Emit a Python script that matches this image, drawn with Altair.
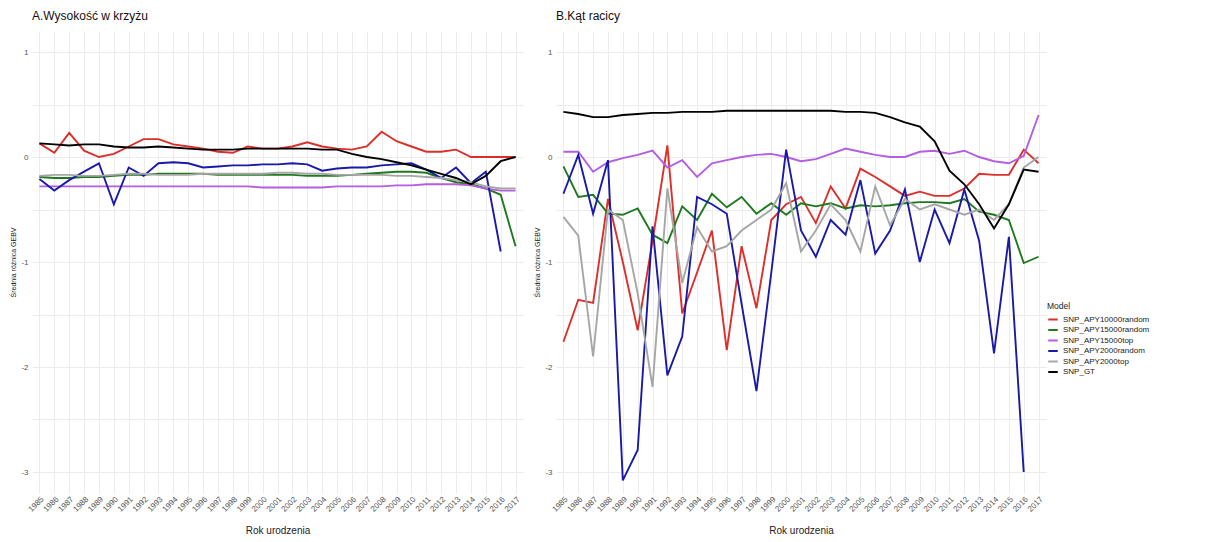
import altair as alt
import pandas as pd

years = [str(y) for y in range(1985, 2018)]  # 33 birth years

series = ["SNP_APY10000random", "SNP_APY15000random", "SNP_APY15000top",
          "SNP_APY2000random", "SNP_APY2000top", "SNP_GT"]
colors = ["#dc2f2a", "#1f7a1f", "#b45ee0", "#1a1aa8", "#a6a6a6", "#000000"]

# Panel A: Wysokość w krzyżu
a_red = [0.13, 0.04, 0.23, 0.06, 0.0, 0.03, 0.1, 0.17, 0.17, 0.12, 0.1, 0.08, 0.05, 0.04, 0.1, 0.08,
         0.08, 0.1, 0.14, 0.1, 0.08, 0.07, 0.1, 0.24, 0.15, 0.1, 0.05, 0.05, 0.07, 0.0, 0.0, 0.0, 0.0]
a_green = [-0.19, -0.2, -0.2, -0.19, -0.19, -0.18, -0.17, -0.17, -0.16, -0.16, -0.16, -0.16, -0.17,
           -0.17, -0.17, -0.17, -0.17, -0.17, -0.18, -0.18, -0.18, -0.17, -0.16, -0.15, -0.14, -0.14,
           -0.15, -0.2, -0.24, -0.26, -0.3, -0.36, -0.85]
a_purple = [-0.28, -0.28, -0.28, -0.28, -0.28, -0.28, -0.28, -0.28, -0.28, -0.28, -0.28, -0.28,
            -0.28, -0.28, -0.28, -0.29, -0.29, -0.29, -0.29, -0.29, -0.28, -0.28, -0.28, -0.28,
            -0.27, -0.27, -0.26, -0.26, -0.26, -0.27, -0.3, -0.32, -0.32]
a_navy = [-0.21, -0.32, -0.22, -0.14, -0.06, -0.45, -0.1, -0.18, -0.06, -0.05, -0.06, -0.1, -0.09,
          -0.08, -0.08, -0.07, -0.07, -0.06, -0.07, -0.13, -0.11, -0.1, -0.1, -0.08, -0.07, -0.06,
          -0.12, -0.2, -0.1, -0.25, -0.14, -0.9, None]
a_grey = [-0.18, -0.17, -0.17, -0.18, -0.18, -0.17, -0.16, -0.16, -0.17, -0.17, -0.17, -0.16, -0.16,
          -0.16, -0.16, -0.16, -0.15, -0.15, -0.16, -0.16, -0.17, -0.17, -0.17, -0.17, -0.18, -0.18,
          -0.19, -0.2, -0.22, -0.24, -0.28, -0.3, -0.3]
a_black = [0.13, 0.12, 0.11, 0.12, 0.12, 0.1, 0.09, 0.09, 0.1, 0.09, 0.08, 0.07, 0.07, 0.07, 0.08,
           0.08, 0.08, 0.08, 0.08, 0.07, 0.07, 0.03, 0.0, -0.02, -0.05, -0.08, -0.12, -0.16, -0.2,
           -0.26, -0.18, -0.04, 0.0]

# Panel B: Kąt racicy
b_red = [-1.76, -1.36, -1.39, -0.4, -1.0, -1.65, -0.8, 0.11, -1.49, -1.1, -0.7, -1.84, -0.85, -1.44,
         -0.6, -0.45, -0.38, -0.63, -0.28, -0.49, -0.11, -0.19, -0.28, -0.37, -0.33, -0.37, -0.37,
         -0.3, -0.16, -0.17, -0.17, 0.07, -0.06]
b_green = [-0.09, -0.38, -0.36, -0.54, -0.55, -0.49, -0.74, -0.82, -0.47, -0.6, -0.35, -0.48, -0.38,
           -0.54, -0.44, -0.55, -0.44, -0.47, -0.44, -0.49, -0.46, -0.47, -0.46, -0.44, -0.43, -0.43,
           -0.44, -0.4, -0.52, -0.55, -0.6, -1.01, -0.95]
b_purple = [0.05, 0.05, -0.14, -0.05, -0.01, 0.02, 0.06, -0.1, -0.03, -0.19, -0.06, -0.03, 0.0, 0.02,
            0.03, 0.0, -0.04, -0.02, 0.03, 0.08, 0.05, 0.02, 0.0, 0.0, 0.05, 0.06, 0.03, 0.06, 0.0,
            -0.04, -0.06, 0.01, 0.4]
b_navy = [-0.35, 0.02, -0.54, -0.03, -3.08, -2.79, -0.66, -2.08, -1.71, -0.38, -0.45, -0.54, -1.4,
          -2.23, -1.1, 0.07, -0.7, -0.95, -0.6, -0.74, -0.22, -0.92, -0.7, -0.31, -1.0, -0.5, -0.82,
          -0.31, -0.8, -1.87, -0.76, -3.0, None]
b_grey = [-0.57, -0.75, -1.9, -0.5, -0.6, -1.3, -2.19, -0.3, -1.2, -0.67, -0.9, -0.85, -0.7, -0.6,
          -0.5, -0.25, -0.9, -0.7, -0.45, -0.6, -0.9, -0.28, -0.65, -0.4, -0.5, -0.45, -0.5, -0.55,
          -0.5, -0.6, -0.45, -0.1, 0.0]
b_black = [0.43, 0.41, 0.38, 0.38, 0.4, 0.41, 0.42, 0.42, 0.43, 0.43, 0.43, 0.44, 0.44, 0.44, 0.44,
           0.44, 0.44, 0.44, 0.44, 0.43, 0.43, 0.42, 0.38, 0.33, 0.29, 0.15, -0.13, -0.26, -0.45,
           -0.68, -0.45, -0.12, -0.14]

panel_a = dict(zip(series, [a_red, a_green, a_purple, a_navy, a_grey, a_black]))
panel_b = dict(zip(series, [b_red, b_green, b_purple, b_navy, b_grey, b_black]))


def long_df(panel):
    rows = []
    for s, vals in panel.items():
        for y, v in zip(years, vals):
            if v is not None:
                rows.append({"Rok": y, "Model": s, "val": v})
    return pd.DataFrame(rows)


FONT = "Liberation Sans"
yticks = [-3, -2.5, -2, -1.5, -1, -0.5, 0, 0.5, 1]

legend = alt.Legend(
    title="Model", orient="none", legendX=1015, legendY=271,
    symbolType="stroke", symbolStrokeWidth=2, symbolSize=90,
    labelFontSize=8, titleFontSize=8.5, titleFontWeight="normal",
    rowPadding=0.5, labelColor="#222", titleColor="#222", labelFont=FONT, titleFont=FONT,
    titlePadding=3,
)


def panel(df, title, width):
    enc = dict(
        x=alt.X("Rok:N", sort=years, title="Rok urodzenia",
                scale=alt.Scale(paddingOuter=0.6),
                axis=alt.Axis(labelAngle=-45, labelFontSize=8, labelColor="#555",
                              ticks=False, domain=False, grid=True, gridColor="#ececec",
                              titleFontSize=10, titleFontWeight="normal", titleColor="#222",
                              titlePadding=12, labelPadding=2, labelFont=FONT, titleFont=FONT,
                              labelOverlap=False)),
        y=alt.Y("val:Q", title="Średnia różnica GEBV",
                scale=alt.Scale(domain=[-3.2, 1.2], nice=False, zero=False),
                axis=alt.Axis(values=yticks,
                              labelExpr="datum.value % 1 == 0 ? '' + datum.value : ''",
                              labelFontSize=8, labelColor="#555", ticks=False, domain=False,
                              grid=True, gridColor="#ececec", titleFontSize=7,
                              titleFontWeight="normal", titleColor="#222", titlePadding=4,
                              labelPadding=4, labelFont=FONT, titleFont=FONT)),
        color=alt.Color("Model:N", scale=alt.Scale(domain=series, range=colors),
                        sort=series, legend=legend),
        detail="Model:N",
    )
    return alt.Chart(df).mark_line(strokeWidth=1.9).encode(**enc).properties(
        width=width, height=462,
        title=alt.TitleParams(title, anchor="start", frame="group", fontSize=12,
                              fontWeight="normal", font=FONT, color="#111", offset=8),
    )


ca = panel(long_df(panel_a), "A.Wysokość w krzyżu", 491)
cb = panel(long_df(panel_b), "B.Kąt racicy", 490)

chart = alt.hconcat(ca, cb, spacing=10).properties(
    padding={"left": 9, "top": 10, "right": 5, "bottom": 2},
    background="white",
).configure_view(stroke=None)

chart.save("out.html", embed_options={"renderer": "svg", "actions": False})
